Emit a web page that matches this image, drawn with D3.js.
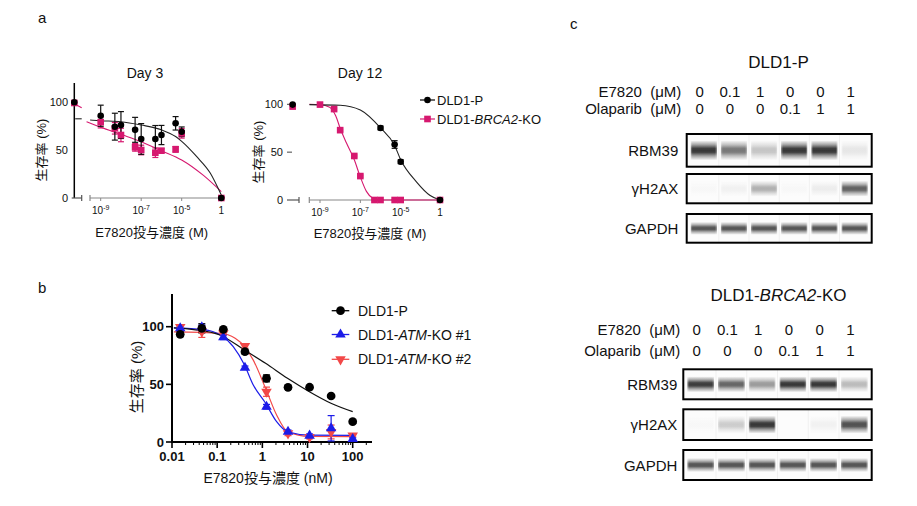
<!DOCTYPE html>
<html><head><meta charset="utf-8">
<script src="https://cdn.jsdelivr.net/npm/d3@7"></script>
<style>
body{margin:0;background:#fff}
svg{display:block}
text{font-family:"Liberation Sans",Arial,"Noto Sans CJK JP",sans-serif;fill:#111}
</style>
</head><body>
<svg id="chart" width="917" height="506"></svg>
<script>
// ---------------- DATA ----------------
// Panel a: concentrations (M)
const concDay3 = [1e-9,5e-9,1e-8,5e-8,1e-7,5e-7,1e-6,5e-6,1e-5,1];
const day3P = [85.7,74.3,76,71,61.5,61.5,65.6,77.8,69,0];
const day3PErr = [11,14,14,13,16,14,10,7,5,1];
const day3P0 = 99.7;
const day3KO = [79,72.6,65.6,52.8,50,47.2,49.3,50.7,67.4,0];
const day3KOErr = [6,6,7,4,5,5,2,3,5,1];
const day3KO0 = 99;
const day3FitP = [[3e-10,81.2],[1e-9,80.5],[1e-8,79.5],[1e-7,76],[1e-6,71],[5e-6,64],[1e-5,59],[8e-4,43],[0.04,26],[1,3]];
const day3FitKO = [[2e-10,79.5],[1e-9,73.7],[1e-8,66.3],[1e-7,58.7],[1e-6,49.3],[1e-5,39.6],[5.6e-3,23.5],[1,6.6]];

const concDay12P = [1e-6,5e-6,1e-5,1];
const day12P = [75.3,58,40,0];
const day12PErr = [2,4,2,0.5];
const day12P0 = 99.7;
const concDay12KO = [1e-9,5e-9,1e-8,5e-8,1e-7,5e-7,1e-6,5e-6,1e-5,1];
const day12KO = [99.7,95,73,46,25,0,0,0,0,0];
const day12KOErr = [1,1,1,1,1,0.5,0.5,0.5,0.5,0.5];
const day12KO0 = 97.6;
const day12FitP = [[3e-10,99.7],[1e-8,99],[1e-7,94],[1e-6,75.3],[5e-6,57],[1e-5,42],[1e-3,19],[0.05,5],[1,0]];
const day12FitKO = [[3e-10,100],[1e-9,99.6],[3e-9,97],[6e-9,88],[1e-8,75],[2e-8,60],[5e-8,42],[1e-7,24],[2e-7,9],[4e-7,2],[8e-7,0],[1,0]];

const dayTickVals = [1e-9,1e-7,1e-5,1];
const dayTickBase = ["10","10","10","1"];
const dayTickExp = ["-9","-7","-5",""];
const dayYTicks = [0,50,100];

// Panel b: concentrations (nM)
const concB = [0.0152,0.0457,0.137,0.412,1.235,3.70,11.1,33.3,100];
const bP = [93.4,98.6,97.7,78.3,55.2,47.4,47.5,39.9,17.6];
const bPErr = [2,4,1.5,2,3,1.5,1.5,1,1.5];
const bATM1 = [98.6,99.5,90.8,64.4,30.6,8.9,5.5,11.9,2.6];
const bATM1Err = [2,2,2,1.5,2,1.5,1.5,11,1];
const bATM2 = [99.7,95.7,94.2,83.3,43.6,7.5,4.2,8.7,5.5];
const bATM2Err = [2,5,1.5,2,4,2,1.5,6,1];
const bFitP = [[0.011,99],[0.03,97.5],[0.115,92.8],[0.4,79.8],[1.18,68.2],[3.6,55.2],[11,43.6],[33,33.6],[100,26.3]];
const bFitATM1 = [[0.011,99],[0.05,97.5],[0.115,93],[0.227,82.7],[0.4,67],[0.63,49.4],[1.18,33.6],[2.07,17.6],[3.6,8.9],[11,6],[100,5.8]];
const bFitATM2 = [[0.011,95.5],[0.115,94.3],[0.25,90],[0.4,83],[0.63,71],[1.18,46.5],[2.07,23.4],[3.6,9],[11,4.8],[100,4.6]];
const bXTicks = [0.01,0.1,1,10,100];
const bXTickLabels = ["0.01","0.1","1","10","100"];
const bYTicks = [0,50,100];

// Panel c: blots
const laneE7820 = ["0","0.1","1","0","0","1"];
const laneOlaparib = ["0","0","0","0.1","1","1"];
const blotP_RBM39 = [0.92,0.62,0.25,0.92,0.92,0.1];
const blotP_H2AX = [0.02,0.05,0.35,0.02,0.07,0.72];
const blotP_GAPDH = [0.78,0.78,0.78,0.78,0.78,0.78];
const blotKO_RBM39 = [0.9,0.7,0.45,0.92,0.92,0.3];
const blotKO_H2AX = [0.02,0.22,0.92,0.0,0.05,0.8];
const blotKO_GAPDH = [0.78,0.78,0.78,0.78,0.78,0.78];
const proteins = ["RBM39","γH2AX","GAPDH"];

// ---------------- DRAW ----------------
const svg = d3.select("#chart");
const PINK = "#d6186f", BLUE = "#1c1ce8", RED = "#f24848";
const CJK = "'Liberation Sans','Noto Sans CJK JP',sans-serif";

function panelLetter(t,x,y){
  svg.append("text").attr("x",x).attr("y",y).attr("font-size",15).text(t);
}
panelLetter("a",38,22.5);
panelLetter("b",38,293);
panelLetter("c",570,28.5);

function errBars(g,xs,vals,errs,x,y,color,cap){
  vals.forEach((v,i)=>{
    const cx = x(xs[i]);
    const y1 = y(v+errs[i]), y2 = y(Math.max(0,v-errs[i]));
    g.append("line").attr("x1",cx).attr("x2",cx).attr("y1",y1).attr("y2",y2).attr("stroke",color).attr("stroke-width",1.2);
    [y1,y2].forEach(yy=>g.append("line").attr("x1",cx-cap).attr("x2",cx+cap).attr("y1",yy).attr("y2",yy).attr("stroke",color).attr("stroke-width",1.2));
  });
}

function dayPanel(o){
  const g = svg.append("g");
  const x = d3.scaleLog().domain([1e-9,1e-5,1]).range(o.xr);
  const xs = d3.scaleLinear().domain([0,1]).range(o.stub);
  const y = d3.scaleLinear().domain([0,100]).range(o.yr);
  const y0 = y(0);
  g.append("text").attr("x",o.titleX).attr("y",77.5).attr("text-anchor","middle").attr("font-size",14).text(o.title);
  if(o.yAxisLine){
    g.append("line").attr("x1",xs(o.zeroPos)).attr("x2",xs(o.zeroPos)).attr("y1",83).attr("y2",y0).attr("stroke","#000").attr("stroke-width",1.5);
  }
  dayYTicks.forEach(t=>{
    g.append("text").attr("x",o.yLabRight).attr("y",y(t)+4).attr("text-anchor","end").attr("font-size",11).attr("fill","#333").text(t);
    if(o.yTickMarks && t>0){
      g.append("line").attr("x1",o.yLabRight+4).attr("x2",o.yLabRight+9).attr("y1",y(t)).attr("y2",y(t)).attr("stroke","#444").attr("stroke-width",1);
    }
  });
  g.append("line").attr("x1",o.stub[0]).attr("x2",o.stub[1]).attr("y1",y0).attr("y2",y0).attr("stroke","#555").attr("stroke-width",1.2);
  g.append("line").attr("x1",o.stub[1]).attr("x2",o.stub[1]).attr("y1",y0-3).attr("y2",y0+3).attr("stroke","#555").attr("stroke-width",1.2);
  g.append("line").attr("x1",o.axis[0]).attr("x2",o.axis[1]).attr("y1",y0).attr("y2",y0).attr("stroke","#888").attr("stroke-width",1.2);
  g.append("line").attr("x1",o.axis[0]).attr("x2",o.axis[0]).attr("y1",y0-3).attr("y2",y0+3).attr("stroke","#888").attr("stroke-width",1.2);
  dayTickVals.forEach((t,i)=>{
    g.append("line").attr("x1",x(t)).attr("x2",x(t)).attr("y1",y0).attr("y2",y0+3).attr("stroke","#888");
    const tx = g.append("text").attr("x",x(t)).attr("y",y0+16).attr("text-anchor","middle").attr("font-size",10).attr("fill","#333");
    tx.append("tspan").text(dayTickBase[i]);
    if(dayTickExp[i]) tx.append("tspan").attr("font-size",7).attr("dy",-4).text(dayTickExp[i]);
  });
  g.append("text").attr("x",o.xLabX).attr("y",o.xLabY).attr("text-anchor","middle").attr("font-size",13)
    .style("font-family",CJK).text("E7820投与濃度 (M)");
  g.append("text").attr("transform",`translate(${o.yLabX},${o.yLabY}) rotate(-90)`).attr("text-anchor","middle").attr("font-size",13)
    .style("font-family",CJK).attr("fill","#333").text("生存率 (%)");
  const line = d3.line().x(d=>x(d[0])).y(d=>y(d[1])).curve(d3.curveMonotoneX);
  g.append("path").attr("d",line(o.fitKO)).attr("fill","none").attr("stroke",PINK).attr("stroke-width",1.1);
  g.append("path").attr("d",line(o.fitP)).attr("fill","none").attr("stroke","#222").attr("stroke-width",1.1);
  if(o.stubFitP){
    const sl = d3.line().x(d=>xs(d[0])).y(d=>y(d[1]));
    g.append("path").attr("d",sl(o.stubFitP)).attr("fill","none").attr("stroke","#222").attr("stroke-width",1.1);
    g.append("path").attr("d",sl(o.stubFitKO)).attr("fill","none").attr("stroke",PINK).attr("stroke-width",1.1);
  }
  errBars(g,o.concKO,o.ko,o.koErr,x,y,PINK,3);
  errBars(g,o.concP,o.p,o.pErr,x,y,"#111",3);
  const sq = d3.symbol().type(d3.symbolSquare).size(44);
  const ci = d3.symbol().type(d3.symbolCircle).size(34);
  o.ko.forEach((v,i)=>g.append("path").attr("d",sq()).attr("transform",`translate(${x(o.concKO[i])},${y(v)})`).attr("fill",PINK));
  g.append("path").attr("d",sq()).attr("transform",`translate(${xs(o.zeroPos)},${y(o.ko0)})`).attr("fill",PINK);
  o.p.forEach((v,i)=>g.append("path").attr("d",ci()).attr("transform",`translate(${x(o.concP[i])},${y(v)})`).attr("fill","#000"));
  g.append("path").attr("d",ci()).attr("transform",`translate(${xs(o.zeroPos)},${y(o.p0)})`).attr("fill","#000");
  return g;
}

dayPanel({title:"Day 3",titleX:145,xr:[100.7,181.7,221.3],stub:[71.7,81.7],zeroPos:0.26,yr:[198,102],axis:[90,222],
  yAxisLine:true,yTickMarks:false,yLabRight:68,xLabX:151.7,xLabY:236.5,yLabX:46,yLabY:150,
  concP:concDay3,p:day3P,pErr:day3PErr,p0:day3P0,concKO:concDay3,ko:day3KO,koErr:day3KOErr,ko0:day3KO0,
  fitP:day3FitP,fitKO:day3FitKO,stubFitP:[[0.35,82.5],[1,82.5]],stubFitKO:[[0.1,99],[1,94]]});

dayPanel({title:"Day 12",titleX:360,xr:[320,400.7,440],stub:[287,299],zeroPos:0.47,yr:[200,104.3],axis:[309.3,441.7],
  yAxisLine:false,yTickMarks:true,yLabRight:283,xLabX:370,xLabY:237.5,yLabX:262.5,yLabY:152,
  concP:concDay12P,p:day12P,pErr:day12PErr,p0:day12P0,concKO:concDay12KO,ko:day12KO,koErr:day12KOErr,ko0:day12KO0,
  fitP:day12FitP,fitKO:day12FitKO});

// legend a
(function(){
  const items=[{t:["DLD1-P"],c:"#000",s:d3.symbolCircle,sz:34,y:100},{t:["DLD1-","BRCA2","-KO"],c:PINK,s:d3.symbolSquare,sz:44,y:119}];
  items.forEach(it=>{
    svg.append("line").attr("x1",420).attr("x2",435).attr("y1",it.y).attr("y2",it.y).attr("stroke",it.c).attr("stroke-width",1.2);
    svg.append("path").attr("d",d3.symbol().type(it.s).size(it.sz)()).attr("transform",`translate(427.5,${it.y})`).attr("fill",it.c);
    const t=svg.append("text").attr("x",437).attr("y",it.y+4.5).attr("font-size",13);
    it.t.forEach((s,i)=>t.append("tspan").attr("font-style",i===1?"italic":null).text(s));
  });
})();

// ---------------- Panel b ----------------
(function(){
  const g = svg.append("g");
  const x = d3.scaleLog().domain([0.01,100]).range([172,352.7]);
  const y = d3.scaleLinear().domain([0,100]).range([442,326.7]);
  const y0 = y(0);
  g.append("line").attr("x1",172).attr("x2",172).attr("y1",294).attr("y2",y0+1).attr("stroke","#000").attr("stroke-width",2);
  g.append("line").attr("x1",171).attr("x2",372).attr("y1",y0).attr("y2",y0).attr("stroke","#000").attr("stroke-width",2);
  bYTicks.forEach(t=>{
    g.append("line").attr("x1",166).attr("x2",172).attr("y1",y(t)).attr("y2",y(t)).attr("stroke","#000").attr("stroke-width",1.6);
    g.append("text").attr("x",164).attr("y",y(t)+4.5).attr("text-anchor","end").attr("font-size",13).attr("font-weight","bold").text(t);
  });
  const minor=[];
  [0.01,0.1,1,10,100].forEach(d=>{for(let k=2;k<=9;k++){const v=d*k; if(v<=280) minor.push(v);}});
  minor.forEach(v=>g.append("line").attr("x1",x(v)).attr("x2",x(v)).attr("y1",y0).attr("y2",y0+3).attr("stroke","#000").attr("stroke-width",1));
  bXTicks.forEach((t,i)=>{
    g.append("line").attr("x1",x(t)).attr("x2",x(t)).attr("y1",y0).attr("y2",y0+6).attr("stroke","#000").attr("stroke-width",1.6);
    g.append("text").attr("x",x(t)).attr("y",460.5).attr("text-anchor","middle").attr("font-size",13).attr("font-weight","bold").text(bXTickLabels[i]);
  });
  g.append("text").attr("x",268).attr("y",483).attr("text-anchor","middle").attr("font-size",14).style("font-family",CJK).text("E7820投与濃度 (nM)");
  g.append("text").attr("transform","translate(142,377) rotate(-90)").attr("text-anchor","middle").attr("font-size",15)
    .style("font-family",CJK).attr("fill","#333").text("生存率 (%)");
  const line = d3.line().x(d=>x(d[0])).y(d=>y(d[1])).curve(d3.curveMonotoneX);
  g.append("path").attr("d",line(bFitATM2)).attr("fill","none").attr("stroke",RED).attr("stroke-width",1.2);
  g.append("path").attr("d",line(bFitATM1)).attr("fill","none").attr("stroke",BLUE).attr("stroke-width",1.2);
  g.append("path").attr("d",line(bFitP)).attr("fill","none").attr("stroke","#111").attr("stroke-width",1.2);
  errBars(g,concB,bATM2,bATM2Err,x,y,RED,3.5);
  errBars(g,concB,bATM1,bATM1Err,x,y,BLUE,3.5);
  errBars(g,concB,bP,bPErr,x,y,"#000",3.5);
  const up = d3.symbol().type(d3.symbolTriangle).size(48);
  const ci = d3.symbol().type(d3.symbolCircle).size(60);
  bATM2.forEach((v,i)=>g.append("path").attr("d",up()).attr("transform",`translate(${x(concB[i])},${y(v)}) rotate(180)`).attr("fill",RED));
  bATM1.forEach((v,i)=>g.append("path").attr("d",up()).attr("transform",`translate(${x(concB[i])},${y(v)})`).attr("fill",BLUE));
  bP.forEach((v,i)=>g.append("path").attr("d",ci()).attr("transform",`translate(${x(concB[i])},${y(v)})`).attr("fill","#000"));
  const items=[{t:["DLD1-P"],c:"#000",sym:ci,rot:0,y:310.7},{t:["DLD1-","ATM","-KO #1"],c:BLUE,sym:up,rot:0,y:334.5},{t:["DLD1-","ATM","-KO #2"],c:RED,sym:up,rot:180,y:359.3}];
  items.forEach(it=>{
    g.append("line").attr("x1",331.7).attr("x2",349.3).attr("y1",it.y).attr("y2",it.y).attr("stroke",it.c).attr("stroke-width",1.3);
    g.append("path").attr("d",it.sym()).attr("transform",`translate(340.5,${it.y}) rotate(${it.rot})`).attr("fill",it.c);
    const t=g.append("text").attr("x",358).attr("y",it.y+5).attr("font-size",14);
    it.t.forEach((s,i)=>t.append("tspan").attr("font-style",i===1?"italic":null).text(s));
  });
})();

// ---------------- Panel c ----------------
const defs = svg.append("defs");
const grad = defs.append("linearGradient").attr("id","bandGrad").attr("x1",0).attr("x2",0).attr("y1",0).attr("y2",1);
[[0,0],[0.22,0.45],[0.4,0.95],[0.5,1],[0.6,0.95],[0.78,0.45],[1,0]].forEach(s=>
  grad.append("stop").attr("offset",s[0]).attr("stop-color","#1a1a1a").attr("stop-opacity",s[1]));
const gradH = defs.append("linearGradient").attr("id","bandGradH").attr("x1",0).attr("x2",1).attr("y1",0).attr("y2",0);
[[0,0.55],[0.08,1],[0.92,1],[1,0.55]].forEach(s=>
  gradH.append("stop").attr("offset",s[0]).attr("stop-color","#fff").attr("stop-opacity",s[1]));
const mask = defs.append("mask").attr("id","bandMask").attr("maskContentUnits","objectBoundingBox");
mask.append("rect").attr("x",0).attr("y",0).attr("width",1).attr("height",1).attr("fill","url(#bandGradH)");

function blot(o){
  const g = svg.append("g");
  const title = g.append("text").attr("x",778.5).attr("y",o.titleY).attr("text-anchor","middle").attr("font-size",17);
  o.title.forEach((s,i)=>title.append("tspan").attr("font-style",i===1?"italic":null).text(s));
  const lane = d3.scaleBand().domain(d3.range(6)).range([o.bx0+2,o.bx1-2]).paddingInner(0.12).paddingOuter(0.06);
  const op = d3.scaleLinear().domain([0,1]).range([0,0.95]);
  g.append("text").attr("x",o.labRight+3).attr("y",o.rowY[0]).attr("text-anchor","end").attr("font-size",15).attr("fill","#222").text("E7820\u00a0\u00a0(μM)");
  g.append("text").attr("x",o.labRight+3).attr("y",o.rowY[1]).attr("text-anchor","end").attr("font-size",15).attr("fill","#222").text("Olaparib\u00a0\u00a0(μM)");
  laneE7820.forEach((v,i)=>g.append("text").attr("x",lane(i)+lane.bandwidth()/2-4).attr("y",o.rowY[0]).attr("text-anchor","middle").attr("font-size",15).attr("fill","#222").text(v));
  laneOlaparib.forEach((v,i)=>g.append("text").attr("x",lane(i)+lane.bandwidth()/2-4).attr("y",o.rowY[1]).attr("text-anchor","middle").attr("font-size",15).attr("fill","#222").text(v));
  o.rows.forEach((r,ri)=>{
    const [t0,t1] = o.boxes[ri];
    const cy = (t0+t1)/2;
    g.append("rect").attr("x",o.bx0).attr("y",t0).attr("width",o.bx1-o.bx0).attr("height",t1-t0).attr("fill","#fcfcfc");
    d3.range(5).forEach(i=>{
      const xx = lane(i)+lane.bandwidth()+lane.step()*lane.paddingInner()/2;
      g.append("line").attr("x1",xx).attr("x2",xx).attr("y1",t0).attr("y2",t1).attr("stroke","#f0f0f0").attr("stroke-width",1);
    });
    r.forEach((v,i)=>{
      g.append("rect").attr("x",lane(i)).attr("y",cy-o.bandH[ri]/2).attr("width",lane.bandwidth()).attr("height",o.bandH[ri])
        .attr("fill","url(#bandGrad)").attr("fill-opacity",op(v)).attr("mask","url(#bandMask)");
    });
    g.append("rect").attr("x",o.bx0).attr("y",t0).attr("width",o.bx1-o.bx0).attr("height",t1-t0).attr("fill","none").attr("stroke","#000").attr("stroke-width",2);
    g.append("text").attr("x",o.labRight).attr("y",cy+5.5).attr("text-anchor","end").attr("font-size",15).attr("fill","#222").text(proteins[ri]);
  });
}
blot({title:["DLD1-P"],titleY:67.5,rowY:[97,113.5],labRight:678.3,bx0:686.7,bx1:871.7,
  boxes:[[134,166.7],[174,203.3],[214,242.7]],bandH:[20,16,13],rows:[blotP_RBM39,blotP_H2AX,blotP_GAPDH]});
blot({title:["DLD1-","BRCA2","-KO"],titleY:301,rowY:[334.5,355.5],labRight:677.3,bx0:683.3,bx1:871.7,
  boxes:[[369.3,399.3],[409.3,440],[450,480]],bandH:[16,18,14],rows:[blotKO_RBM39,blotKO_H2AX,blotKO_GAPDH]});
</script>
</body></html>
